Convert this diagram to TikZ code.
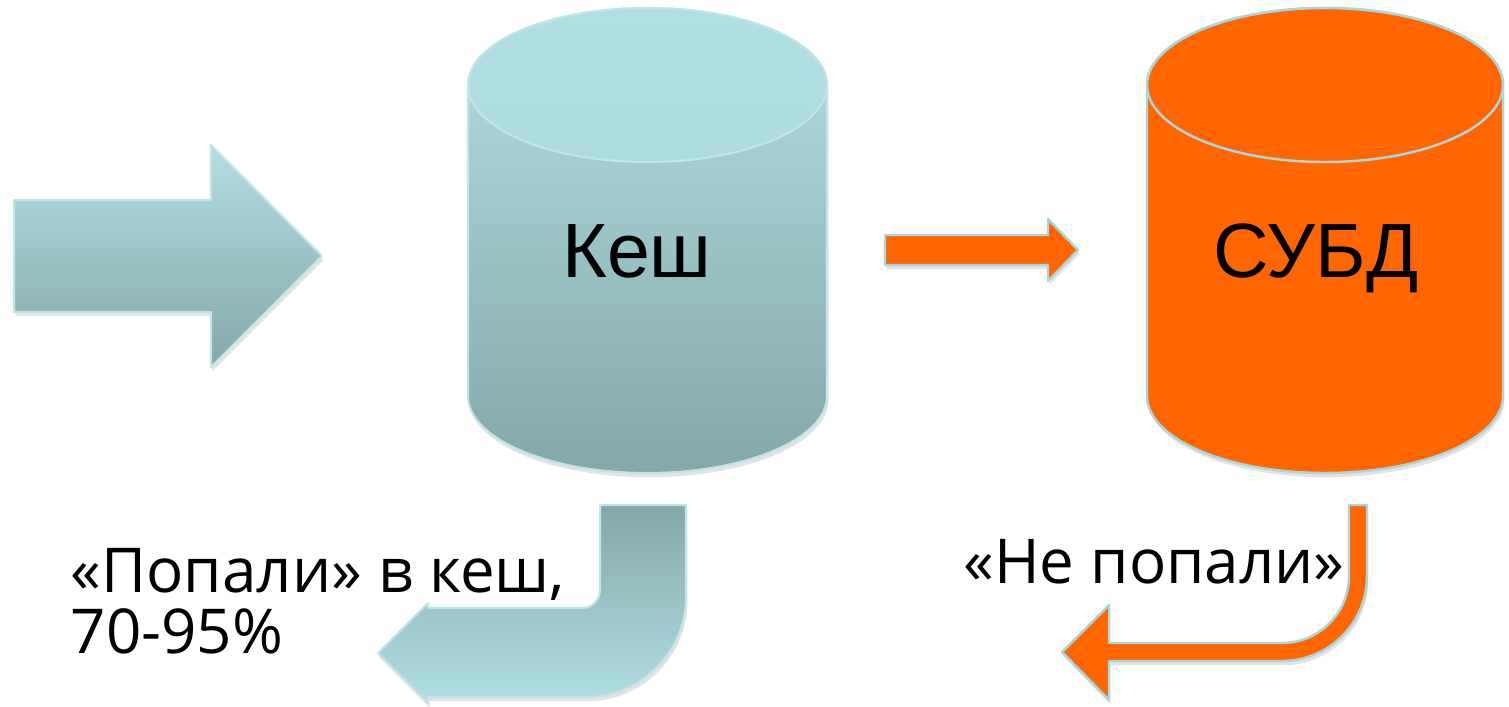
\documentclass[tikz,border=0pt]{standalone}
\usepackage{fontspec}
\setmainfont{Liberation Sans}
\newfontfamily\labelfont{Open Sans}
\usepackage{xcolor}
\usepackage{tikz}
\usetikzlibrary{shadows}
\definecolor{aqualight}{RGB}{177,223,227}
\definecolor{aquadark}{RGB}{131,168,170}
\definecolor{aquaedge}{RGB}{192,229,232}
\definecolor{dborange}{RGB}{255,102,0}
\definecolor{dbedge}{RGB}{168,214,219}

\begin{document}
\begin{tikzpicture}[line cap=round,line join=round,x=1cm,y=1cm,
  softshadow/.style={drop shadow={opacity=0.22,shadow xshift=0.4pt,shadow yshift=-1.2pt}},
  aquadown/.style={softshadow,top color=aqualight,bottom color=aquadark,draw=aquaedge,line width=0.6pt},
  aquabody/.style={softshadow,top color=aqualight,middle color=aqualight!72!aquadark,bottom color=aquadark,draw=aquaedge,line width=0.6pt},
  aquaup/.style={softshadow,top color=aquadark,bottom color=aqualight,draw=aquaedge,line width=0.6pt},
  orangeshape/.style={softshadow,fill=dborange,draw=dbedge,line width=0.7pt},
  bigtext/.style={font=\fontsize{21.9}{26}\selectfont,inner sep=0pt},
  smalltext/.style={font=\labelfont\fontsize{17.6}{17.3}\selectfont,inner sep=0pt,align=left}]
\useasboundingbox (0,0) rectangle (15.09,7.06);
\path[aquadown] (0.14,5.06) -- (2.11,5.06) -- (2.11,5.61) -- (3.22,4.50) -- (2.11,3.39) -- (2.11,3.94) -- (0.14,3.94) -- cycle;
\path[aquabody] (4.68,6.21) -- (4.68,3.10) arc[start angle=180,end angle=360,x radius=1.795,y radius=0.77] -- (8.27,6.21) arc[start angle=0,end angle=180,x radius=1.795,y radius=0.77] -- cycle;
\shade[top color=aqualight,bottom color=aqualight!93!aquadark] (6.475,6.21) ellipse [x radius=1.795,y radius=0.77];
\draw[aquaedge,line width=0.6pt] (6.475,6.21) ellipse [x radius=1.795,y radius=0.77];
\path[orangeshape] (8.85,4.71) -- (10.48,4.71) -- (10.48,4.87) -- (10.78,4.56) -- (10.48,4.25) -- (10.48,4.41) -- (8.85,4.41) -- cycle;
\path[orangeshape] (11.47,6.21) -- (11.47,3.10) arc[start angle=180,end angle=360,x radius=1.78,y radius=0.77] -- (15.03,6.21) arc[start angle=0,end angle=180,x radius=1.78,y radius=0.77] -- cycle;
\filldraw[fill=dborange,draw=dbedge,line width=0.7pt] (13.25,6.21) ellipse [x radius=1.78,y radius=0.77];
\path[aquaup] (6.00,2.01) -- (6.86,2.01) -- (6.86,1.09) arc[start angle=0,end angle=-90,radius=1.00] -- (4.28,0.09) -- (4.28,0.03) -- (3.78,0.53) -- (4.28,1.03) -- (4.28,0.98) -- (5.82,0.98) arc[start angle=-90,end angle=0,radius=0.18] -- cycle;
\path[orangeshape] (13.49,2.01) -- (13.67,2.01) -- (13.67,1.30) arc[start angle=0,end angle=-90,radius=0.85] -- (11.09,0.45) -- (11.09,0.06) -- (10.62,0.54) -- (11.09,1.01) -- (11.09,0.63) -- (12.82,0.63) arc[start angle=-90,end angle=0,radius=0.67] -- cycle;
\node[bigtext,anchor=base] (kesh) at (6.37,4.29) {Кеш};
\node[bigtext,anchor=base] (subd) at (13.16,4.29) {СУБД};
\node[smalltext,anchor=north west] (hitlabel) at (0.70,1.58) {«Попали» в кеш,\\70-95\%};
\node[smalltext,anchor=base] (misslabel) at (11.54,1.23) {«Не попали»};
\end{tikzpicture}
\end{document}
